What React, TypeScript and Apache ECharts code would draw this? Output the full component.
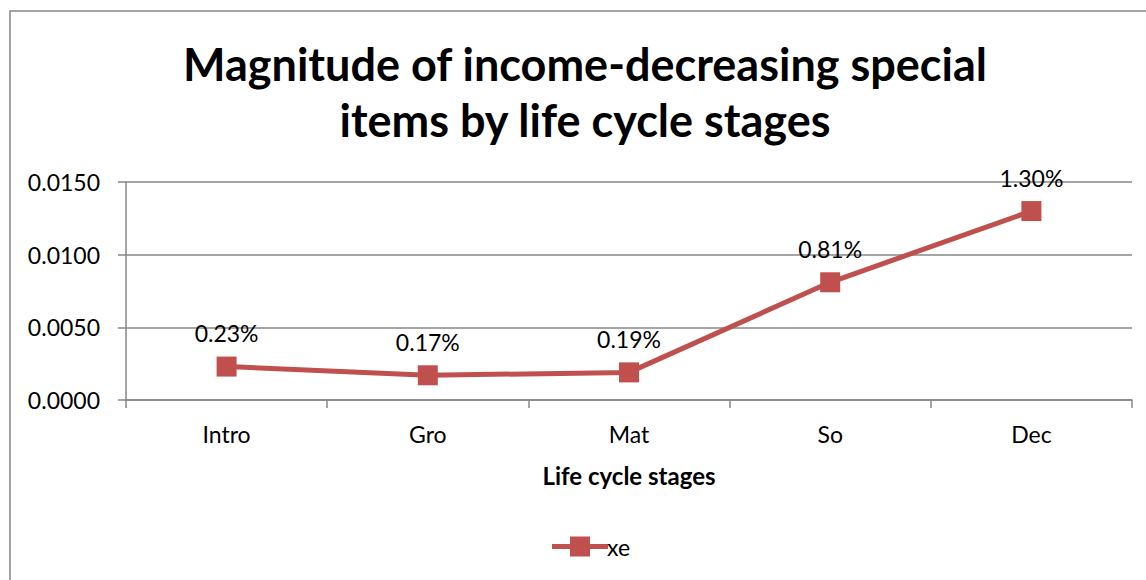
import React, { useEffect, useRef } from "react";
import * as echarts from "echarts";

const categories = ["Intro", "Gro", "Mat", "So", "Dec"];
const xeValues = [0.0023, 0.0017, 0.0019, 0.0081, 0.013];
const seriesName = "xe";
const titleText = "Magnitude of income-decreasing special\nitems by life cycle stages";
const xAxisName = "Life cycle stages";

const FONT = "Lato, 'Open Sans', sans-serif";
const RED = "#C0504D";
const GRAY = "#878787";
const LEGEND_ICON = "path://M0,7.5 H56 V12.5 H0 Z M18,0 H38 V20 H18 Z";

export default function App() {
  const ref = useRef<HTMLDivElement>(null);
  useEffect(() => {
    document.body.style.margin = "0";
    const chart = echarts.init(ref.current!, null, { renderer: "svg" });
    chart.setOption({
      animation: false,
      backgroundColor: "#ffffff",
      textStyle: { fontFamily: FONT },
      graphic: [
        {
          type: "rect",
          shape: { x: 10, y: 11, width: 1200, height: 700 },
          style: { fill: "none", stroke: GRAY, lineWidth: 1.5 },
          silent: true,
        },
      ],
      title: {
        text: titleText,
        left: 580,
        top: 31,
        textAlign: "center",
        textStyle: {
          fontFamily: FONT,
          fontWeight: "bold",
          fontSize: 45,
          lineHeight: 56,
          color: "#000",
        },
      },
      grid: { left: 126, right: 14, top: 182, bottom: 180, containLabel: false },
      xAxis: {
        type: "category",
        data: categories,
        boundaryGap: true,
        name: xAxisName,
        nameLocation: "middle",
        nameGap: 63,
        nameTextStyle: { fontFamily: FONT, fontWeight: "bold", fontSize: 24, color: "#000" },
        axisLine: { show: true, lineStyle: { color: GRAY, width: 1.5 } },
        axisTick: { show: true, length: 8, alignWithLabel: false, lineStyle: { color: GRAY, width: 1.5 } },
        axisLabel: { fontFamily: FONT, fontSize: 23, color: "#000", margin: 22 },
        splitLine: { show: false },
      },
      yAxis: {
        type: "value",
        min: 0,
        max: 0.015,
        interval: 0.005,
        axisLine: { show: true, lineStyle: { color: GRAY, width: 1.5 } },
        axisTick: { show: true, length: 8, lineStyle: { color: GRAY, width: 1.5 } },
        axisLabel: {
          fontFamily: FONT,
          fontSize: 23,
          color: "#000",
          margin: 26,
          formatter: (v: number) => v.toFixed(4),
        },
        splitLine: { show: true, lineStyle: { color: GRAY, width: 1.5 } },
      },
      legend: {
        data: [{ name: seriesName, icon: LEGEND_ICON }],
        left: 547,
        top: 530,
        itemWidth: 56,
        itemHeight: 20,
        itemGap: 4,
        itemStyle: { color: RED },
        textStyle: { fontFamily: FONT, fontSize: 23, color: "#000", padding: [0, 0, 0, -6] },
      },
      series: [
        {
          name: seriesName,
          type: "line",
          data: xeValues,
          symbol: "rect",
          symbolSize: 20,
          itemStyle: { color: RED },
          lineStyle: { color: RED, width: 5 },
          label: {
            show: true,
            position: "top",
            distance: 12,
            fontFamily: FONT,
            fontSize: 23,
            color: "#000",
            formatter: (p: any) => (p.value * 100).toFixed(2) + "%",
          },
        },
      ],
    });
    return () => chart.dispose();
  }, []);
  return <div ref={ref} style={{ width: 1146, height: 580 }} />;
}
